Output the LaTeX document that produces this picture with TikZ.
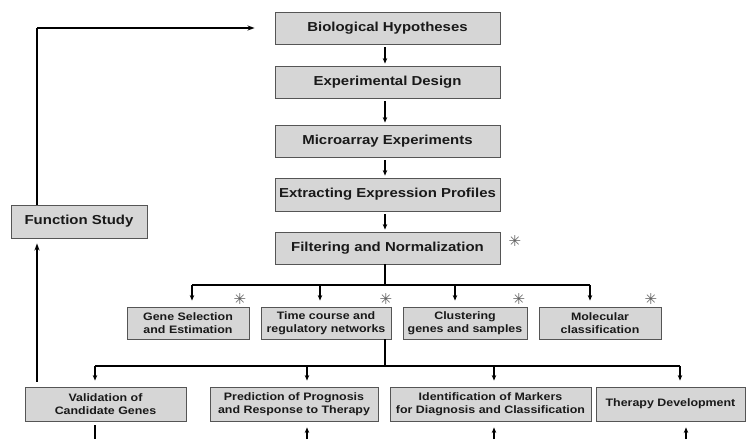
\documentclass[tikz,border=0pt]{standalone}
\usepackage{fontspec}
\setmainfont{Liberation Sans}[FakeStretch=1.15]
\newfontfamily\symfont{DejaVu Sans}
\usetikzlibrary{arrows.meta}
\definecolor{boxfill}{RGB}{214,214,214}
\definecolor{boxline}{RGB}{85,85,85}
\definecolor{txt}{RGB}{25,25,25}
\definecolor{starcol}{RGB}{95,95,95}
\begin{document}
\begin{tikzpicture}[x=1pt,y=-1pt,
  box/.style={draw=boxline,fill=boxfill,line width=0.9pt,inner sep=0pt,
    text=txt,align=center,font=\bfseries\fontsize{13}{15}\selectfont},
  smallbox/.style={box,font=\bfseries\fontsize{10.8}{12.8}\selectfont},
  flow/.style={-{Stealth[length=5.5pt,width=4.5pt]},line width=1.1pt,
    shorten <=3pt,shorten >=2pt},
  bus/.style={line width=1.2pt},
  loop/.style={line width=1.8pt},
  star/.style={text=starcol,font=\symfont\fontsize{15}{15}\selectfont,inner sep=0pt}]
\useasboundingbox[fill=white] (0,0) rectangle (746,439);

% main pipeline
\node[box,minimum width=225pt,minimum height=32pt] (hyp) at (387.5,28) {Biological Hypotheses};
\node[box,minimum width=225pt,minimum height=32pt] (des) at (387.5,82) {Experimental Design};
\node[box,minimum width=225pt,minimum height=32pt] (mic) at (387.5,141) {Microarray Experiments};
\node[box,minimum width=225pt,minimum height=33pt] (ext) at (387.5,194.5) {Extracting Expression Profiles};
\node[box,minimum width=225pt,minimum height=32pt] (fil) at (387.5,248) {Filtering and Normalization};

\node[box,minimum width=136pt,minimum height=33pt] (fun) at (79,221.5) {Function Study};

% analysis methods
\node[smallbox,minimum width=122pt,minimum height=32pt] (gene) at (188,323) {Gene Selection\\and Estimation};
\node[smallbox,minimum width=130pt,minimum height=32pt] (time) at (326,323) {Time course and\\regulatory networks};
\node[smallbox,minimum width=124pt,minimum height=32pt] (clus) at (465,323) {Clustering\\genes and samples};
\node[smallbox,minimum width=122pt,minimum height=32pt] (mol) at (600,323) {Molecular\\classification};

% applications
\node[smallbox,minimum width=161pt,minimum height=34pt] (val) at (105.5,404) {Validation of\\Candidate Genes};
\node[smallbox,minimum width=168pt,minimum height=34pt] (pred) at (294,404) {Prediction of Prognosis\\and Response to Therapy};
\node[smallbox,minimum width=201pt,minimum height=34pt] (ident) at (490.5,404) {Identification of Markers\\for Diagnosis and Classification};
\node[smallbox,minimum width=149pt,minimum height=34pt] (ther) at (670.5,404) {Therapy Development};

% asterisks
\node[star] (s0) at (515,241) {✳};
\node[star] (s1) at (240,299) {✳};
\node[star] (s2) at (386,299) {✳};
\node[star] (s3) at (519,299) {✳};
\node[star] (s4) at (651,299) {✳};

% pipeline arrows
\coordinate (cx) at (385,0);
\draw[flow] (hyp.south -| cx) -- (des.north -| cx);
\draw[flow] (des.south -| cx) -- (mic.north -| cx);
\draw[flow] (mic.south -| cx) -- (ext.north -| cx);
\draw[flow] (ext.south -| cx) -- (fil.north -| cx);

% first branching
\coordinate (j1) at (385,285);
\coordinate (a1) at (192,285);
\coordinate (a2) at (320,285);
\coordinate (a3) at (455,285);
\coordinate (a4) at (590,285);
\draw[bus] (fil.south -| j1) -- (j1);
\draw[bus] (a1) -- (a4);
\draw[flow,shorten <=0pt,shorten >=6pt] (a1) -- (gene.north -| a1);
\draw[flow,shorten <=0pt,shorten >=6pt] (a2) -- (time.north -| a2);
\draw[flow,shorten <=0pt,shorten >=6pt] (a3) -- (clus.north -| a3);
\draw[flow,shorten <=0pt,shorten >=6pt] (a4) -- (mol.north -| a4);

% second branching
\coordinate (j2) at (385,366);
\coordinate (b1) at (95,366);
\coordinate (b2) at (307,366);
\coordinate (b3) at (494,366);
\coordinate (b4) at (680,366);
\draw[bus] (time.south -| j2) -- (j2);
\draw[bus] (b1) -- (b4);
\draw[flow,shorten <=0pt,shorten >=6pt] (b1) -- (val.north -| b1);
\draw[flow,shorten <=0pt,shorten >=6pt] (b2) -- (pred.north -| b2);
\draw[flow,shorten <=0pt,shorten >=6pt] (b3) -- (ident.north -| b3);
\draw[flow,shorten <=0pt,shorten >=6pt] (b4) -- (ther.north -| b4);

% feedback loop
\coordinate (fx) at (37,0);
\coordinate (top) at (37,28);
\draw[loop,-{Stealth[length=7pt,width=5pt]},shorten <=5pt,shorten >=5pt]
  (val.north -| fx) -- (fun.south -| fx);
\draw[loop,shorten <=0pt] (fun.north -| fx) -- (top);
\draw[line width=1.5pt,-{Stealth[length=7pt,width=5pt]},shorten >=20pt]
  (top) -- (hyp.west |- top);

% links leaving the lower edge
\coordinate (e1) at (95,439);
\coordinate (e2) at (307,439);
\coordinate (e3) at (494,439);
\coordinate (e4) at (686,439);
\draw[line width=2.6pt,shorten <=4pt] (val.south -| e1) -- (e1);
\draw[flow,shorten <=0pt,shorten >=6pt] (e2) -- (pred.south -| e2);
\draw[flow,shorten <=0pt,shorten >=6pt] (e3) -- (ident.south -| e3);
\draw[flow,shorten <=0pt,shorten >=6pt] (e4) -- (ther.south -| e4);
\end{tikzpicture}
\end{document}
